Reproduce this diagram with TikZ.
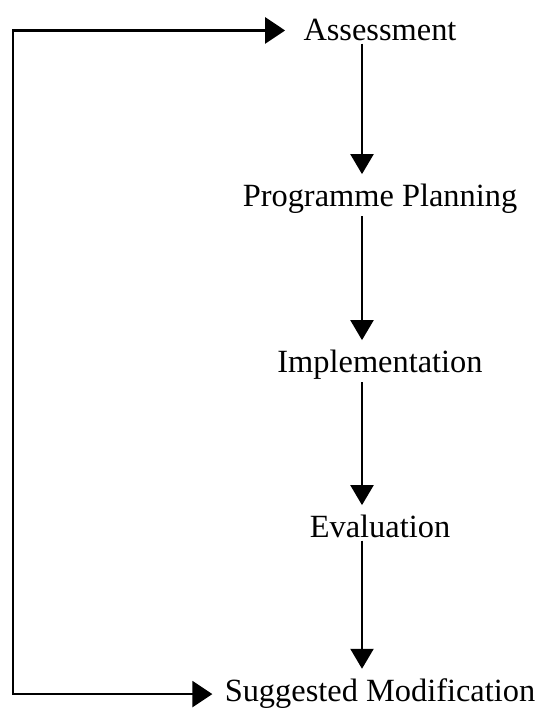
\documentclass[tikz,border=0pt]{standalone}
\usepackage{fontspec}
\setmainfont{Liberation Serif}
\usetikzlibrary{arrows.meta}
\begin{document}
\begin{tikzpicture}[x=0.5pt,y=0.5pt,
  every node/.style={font=\fontsize{16.2}{19}\selectfont,inner sep=1pt,anchor=base},
  flow/.style={line width=1.1pt,-{Triangle[length=10pt,width=11.5pt]},shorten >=4pt},
  feedback/.style={line width=1.3pt,{Triangle[length=10pt,width=13pt]}-{Triangle[length=10pt,width=13pt]},shorten <=5pt,shorten >=8pt}]
\useasboundingbox (0,0) rectangle (539,708);
% Stages of the cycle
\node (assess) at (380,667) {Assessment};
\node (plan) at (380,501) {Programme Planning};
\node (impl) at (380,335) {Implementation};
\node (eval) at (380,170) {Evaluation};
\node (sugg) at (380,6) {Suggested Modification};
% Downward arrows
\coordinate (spine) at (362,0);
\draw[flow] (assess.south -| spine) -- (plan.north -| spine);
\draw[flow] (plan.south -| spine) -- (impl.north -| spine);
\draw[flow] (impl.south -| spine) -- (eval.north -| spine);
\draw[flow] (eval.south -| spine) -- (sugg.north -| spine);
% Return loop on the left
\coordinate (back) at (13,0);
\draw[feedback] (sugg.west) -| (back |- assess.west) -- (assess.west);
\end{tikzpicture}
\end{document}
